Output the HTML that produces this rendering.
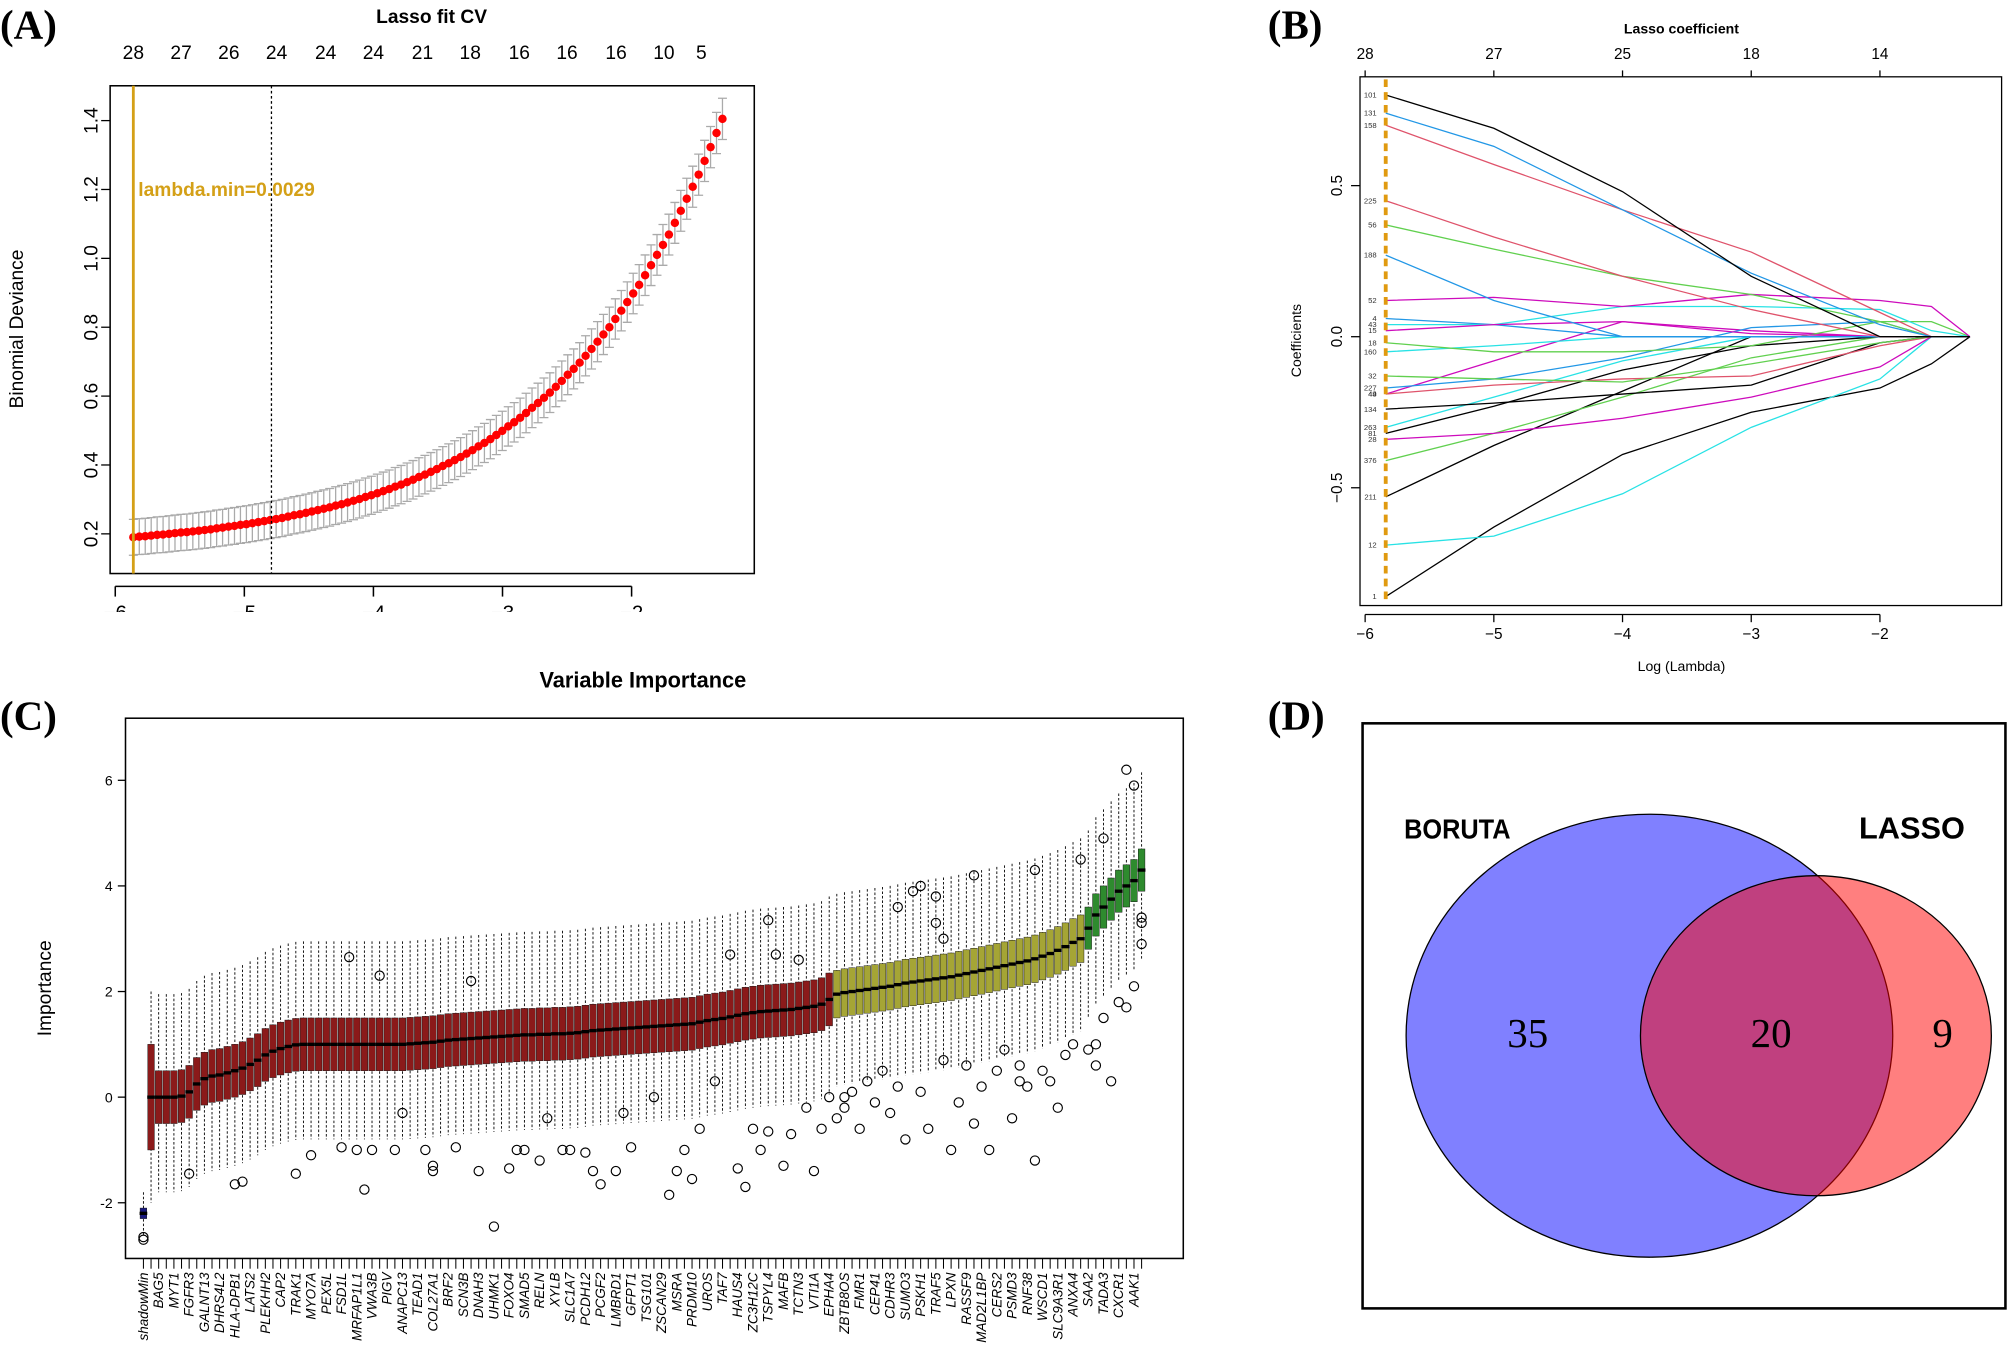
<!DOCTYPE html>
<html><head><meta charset="utf-8">
<style>
html,body{margin:0;padding:0;background:#fff;}
svg{display:block;}
text{font-family:"Liberation Sans",sans-serif;}
.serif{font-family:"Liberation Serif",serif;}
</style></head>
<body>
<svg id="fig" xmlns="http://www.w3.org/2000/svg" width="2008" height="1366" viewBox="0 0 1568 1067" preserveAspectRatio="none">
<rect x="0" y="0" width="1568" height="1067" fill="#fff"/>
<defs><clipPath id="clipA"><rect x="0" y="0" width="700" height="478"/></clipPath></defs>

<text class="serif" x="0" y="30" font-size="32" font-weight="bold">(A)</text>
<text class="serif" x="990" y="30" font-size="32" font-weight="bold">(B)</text>
<text class="serif" x="0" y="570" font-size="32" font-weight="bold">(C)</text>
<text class="serif" x="990" y="570" font-size="32" font-weight="bold">(D)</text>

<g id="panelA">
<text x="337" y="18" font-size="15" font-weight="bold" text-anchor="middle">Lasso fit CV</text>
<text transform="translate(18,257) rotate(-90)" font-size="15" text-anchor="middle">Binomial Deviance</text>
<rect x="86" y="67" width="503" height="381" fill="none" stroke="#000" stroke-width="1.2"/>
<g id="aAxes"></g>
<g id="aMarks"></g>
<text x="108" y="153" font-size="15" font-weight="bold" fill="#D4A017">lambda.min=0.0029</text>
</g>

<g id="panelB">
<text x="1313" y="26" font-size="11" font-weight="bold" text-anchor="middle">Lasso coefficient</text>
<text transform="translate(1016,266) rotate(-90)" font-size="11" text-anchor="middle">Coefficients</text>
<text x="1313" y="524" font-size="11" text-anchor="middle">Log (Lambda)</text>
<rect x="1062" y="60" width="501" height="413" fill="none" stroke="#000" stroke-width="1"/>
<g id="bAxes"></g>
<g id="bMarks"></g>
</g>

<g id="panelC">
<text x="502" y="537" font-size="17" font-weight="bold" text-anchor="middle">Variable Importance</text>
<text transform="translate(40,772) rotate(-90)" font-size="15" text-anchor="middle">Importance</text>
<g id="cAxes"></g>
<g id="cMarks"></g>
<rect x="98" y="561" width="826" height="422" fill="none" stroke="#000" stroke-width="1.2"/>
</g>

<g id="panelD">
<rect x="1064" y="565" width="502" height="457" fill="none" stroke="#000" stroke-width="2"/>
<ellipse cx="1288" cy="809" rx="190" ry="173" fill="#8080FF" stroke="#000" stroke-width="1"/>
<ellipse cx="1418" cy="809" rx="137" ry="125" fill="rgba(255,0,0,0.5)" stroke="#000" stroke-width="1"/>
<text x="1138" y="655" font-size="22" font-weight="bold" text-anchor="middle" transform="translate(1138,0) scale(0.9,1) translate(-1138,0)">BORUTA</text>
<text x="1493" y="655" font-size="24" font-weight="bold" text-anchor="middle">LASSO</text>
<text class="serif" x="1193" y="818" font-size="32" text-anchor="middle">35</text>
<text class="serif" x="1383" y="818" font-size="32" text-anchor="middle">20</text>
<text class="serif" x="1517" y="818" font-size="32" text-anchor="middle">9</text>
</g>
</svg>

<script>
const aLogLambdaStart = -5.86;
const aLogLambdaStep = 0.0461;
const aDeviance = [0.190,0.192,0.193,0.195,0.197,0.198,0.200,0.202,0.204,0.205,0.207,0.209,0.211,0.213,0.216,0.218,0.221,0.223,0.226,0.228,0.231,0.234,0.237,0.240,0.243,0.246,0.250,0.254,0.257,0.261,0.265,0.269,0.273,0.277,0.282,0.286,0.291,0.296,0.301,0.307,0.312,0.318,0.324,0.330,0.337,0.343,0.350,0.357,0.365,0.372,0.380,0.388,0.397,0.405,0.414,0.423,0.433,0.443,0.454,0.464,0.475,0.487,0.499,0.512,0.524,0.537,0.551,0.566,0.580,0.595,0.610,0.627,0.644,0.662,0.679,0.697,0.717,0.737,0.758,0.779,0.800,0.824,0.848,0.873,0.898,0.923,0.951,0.980,1.010,1.039,1.069,1.103,1.138,1.173,1.208,1.243,1.283,1.323,1.364,1.405];
const aSE = [0.052,0.060];
const aYTicks = [0.2,0.4,0.6,0.8,1.0,1.2,1.4];
const aYTickLabels = ["0.2","0.4","0.6","0.8","1.0","1.2","1.4"];
const aXTicks = [-6,-5,-4,-3,-2];
const aXTickLabels = ["\u22126","\u22125","\u22124","\u22123","\u22122"];
const aTopLabels = ["28","27","26","24","24","24","21","18","16","16","16","10","5"];
const aTopPos = [-5.86,-5.49,-5.12,-4.75,-4.37,-4.00,-3.62,-3.25,-2.87,-2.50,-2.12,-1.75,-1.46];
const aLambdaMin = -5.86, aLambda1se = -4.79;

const bKnots = [-5.84,-5,-4,-3,-2,-1.6,-1.3];
const bIds = ["1","12","211","376","28","81","263","134","49","44","227","32","160","18","4","43","15","52","188","56","225","158","131","101"];
const bColors = ["#000000","#28E2E5","#000000","#61D04F","#CD0BBC","#000000","#28E2E5","#000000","#CD0BBC","#DF536B","#2297E6","#61D04F","#28E2E5","#61D04F","#2297E6","#28E2E5","#CD0BBC","#CD0BBC","#2297E6","#61D04F","#DF536B","#DF536B","#2297E6","#000000"];
const bS1 = [-0.86,-0.63,-0.39,-0.25,-0.17,-0.09,0];
const bS12 = [-0.69,-0.66,-0.52,-0.30,-0.14,0,0];
const bS211 = [-0.53,-0.36,-0.18,0,0,0,0];
const bS376 = [-0.41,-0.32,-0.20,-0.07,0,0,0];
const bS28 = [-0.34,-0.32,-0.27,-0.20,-0.10,0,0];
const bS81 = [-0.32,-0.23,-0.11,-0.03,0,0,0];
const bS263 = [-0.30,-0.20,-0.08,0,0,0,0];
const bS134 = [-0.24,-0.22,-0.19,-0.16,-0.02,0,0];
const bS49 = [-0.19,-0.08,0.05,0.02,0,0,0];
const bS44 = [-0.19,-0.16,-0.14,-0.13,-0.03,0,0];
const bS227 = [-0.17,-0.14,-0.07,0.03,0.05,0,0];
const bS32 = [-0.13,-0.14,-0.15,-0.09,-0.02,0,0];
const bS160 = [-0.05,-0.03,0,0,0,0,0];
const bS18 = [-0.02,-0.05,-0.05,-0.03,0.05,0.05,0];
const bS4 = [0.06,0.04,0,0,0,0,0];
const bS43 = [0.04,0.04,0.10,0.10,0.09,0.02,0];
const bS15 = [0.02,0.04,0.05,0.01,0,0,0];
const bS52 = [0.12,0.13,0.10,0.14,0.12,0.10,0];
const bS188 = [0.27,0.12,0,0,0,0,0];
const bS56 = [0.37,0.29,0.20,0.14,0.05,0,0];
const bS225 = [0.45,0.33,0.20,0.09,0,0,0];
const bS158 = [0.70,0.57,0.42,0.28,0.08,0,0];
const bS131 = [0.74,0.63,0.42,0.21,0.04,0,0];
const bS101 = [0.80,0.69,0.48,0.20,0.0,0,0];
const bSeries = [bS1,bS12,bS211,bS376,bS28,bS81,bS263,bS134,bS49,bS44,bS227,bS32,bS160,bS18,bS4,bS43,bS15,bS52,bS188,bS56,bS225,bS158,bS131,bS101];
const bXTicks = [-6,-5,-4,-3,-2];
const bXTickLabels = ["\u22126","\u22125","\u22124","\u22123","\u22122"];
const bYTicks = [-0.5,0,0.5];
const bYTickLabels = ["\u22120.5","0.0","0.5"];
const bTopLabels = ["28","27","25","18","14"];
const bLambdaMin = -5.84;

const cLabels = ["shadowMin","BAG5","MYT1","FGFR3","GALNT13","DHRS4L2","HLA-DPB1","LATS2","PLEKHH2","CAP2","TRAK1","MYO7A","PEX5L","FSD1L","MRFAP1L1","VWA3B","PIGV","ANAPC13","TEAD1","COL27A1","BRF2","SCN3B","DNAH3","UHMK1","FOXO4","SMAD5","RELN","XYLB","SLC1A7","PCDH12","PCGF2","LMBRD1","GFPT1","TSG101","ZSCAN29","MSRA","PRDM10","UROS","TAF7","HAUS4","ZC3H12C","TSPYL4","MAFB","TCTN3","VTI1A","EPHA4","ZBTB8OS","FMR1","CEP41","CDHR3","SUMO3","PSKH1","TRAF5","LPXN","RASSF9","MAD2L1BP","CERS2","PSMD3","RNF38","WSCD1","SLC9A3R1","ANXA4","SAA2","TADA3","CXCR1","AAK1"];
const cMedians = [-2.2,
0,0,0,0,0.02,
0.1,0.25,0.35,0.4,0.42,
0.46,0.5,0.55,0.62,0.7,
0.8,0.87,0.92,0.96,0.99,
1,1,1,1,1,
1,1,1,1,1,
1,1,1,1,1.01,
1.02,1.03,1.04,1.06,1.08,
1.09,1.1,1.11,1.12,1.13,
1.14,1.15,1.16,1.17,1.18,
1.18,1.19,1.19,1.2,1.2,
1.21,1.22,1.24,1.26,1.27,
1.28,1.29,1.3,1.31,1.32,
1.33,1.34,1.35,1.36,1.37,
1.38,1.39,1.42,1.45,1.47,
1.49,1.52,1.55,1.58,1.6,
1.62,1.63,1.64,1.65,1.66,
1.68,1.7,1.72,1.76,1.85,
1.95,1.98,2.0,2.02,2.04,
2.06,2.08,2.1,2.13,2.16,
2.18,2.2,2.22,2.24,2.26,
2.28,2.31,2.34,2.37,2.4,
2.43,2.46,2.49,2.52,2.55,
2.58,2.62,2.67,2.72,2.78,
2.85,2.93,3.0,3.2,3.45,
3.6,3.75,3.9,4.0,4.1,4.3];
const cTentativeStart = 91;
const cConfirmedStart = 124;
const cOutlierIdx = [0,0,6,12,13,20,22,26,27,28,29,30,31,33,34,37,38,38,41,43,44,46,48,49,50,52,53,55,56,58,59,60,62,63,64,67,69,70,71,72,73,75,77,78,79,80,81,82,82,83,84,85,86,87,88,89,90,
91,92,92,93,94,95,96,97,98,99,99,100,101,102,102,103,104,104,105,105,106,107,108,109,109,110,111,112,113,114,115,115,116,117,117,118,119,120,121,122,123,124,125,125,126,126,127,128,129,129,130,130,131,131,131];
const cOutlierVal = [-2.65,-2.7,-1.45,-1.65,-1.6,-1.45,-1.1,-0.95,2.65,-1.0,-1.75,-1.0,2.3,-1.0,-0.3,-1.0,-1.4,-1.3,-0.95,2.2,-1.4,-2.45,-1.35,-1.0,-1.0,-1.2,-0.4,-1.0,-1.0,-1.05,-1.4,-1.65,-1.4,-0.3,-0.95,0.0,-1.85,-1.4,-1.0,-1.55,-0.6,0.3,2.7,-1.35,-1.7,-0.6,-1.0,3.35,-0.65,2.7,-1.3,-0.7,2.6,-0.2,-1.4,-0.6,0.0,
-0.4,0.0,-0.2,0.1,-0.6,0.3,-0.1,0.5,-0.3,3.6,0.2,-0.8,3.9,4.0,0.1,-0.6,3.8,3.3,3.0,0.7,-1.0,-0.1,0.6,4.2,-0.5,0.2,-1.0,0.5,0.9,-0.4,0.3,0.6,0.2,4.3,-1.2,0.5,0.3,-0.2,0.8,1.0,4.5,0.9,0.6,1.0,4.9,1.5,0.3,1.8,6.2,1.7,5.9,2.1,2.9,3.3,3.4];
const cYTicks = [-2,0,2,4,6];
const cYTickLabels = ["-2","0","2","4","6"];

const NS = "http://www.w3.org/2000/svg";
function mk(parent, tag, attrs, txt){
  const el = document.createElementNS(NS, tag);
  for (const k in attrs) el.setAttribute(k, attrs[k]);
  if (txt !== undefined) el.textContent = txt;
  parent.appendChild(el);
  return el;
}

const xA = v => 90 + (v + 6) * 100.8;
const yA = v => 417 - (v - 0.2) * 269;
const aAxes = document.getElementById('aAxes');
const aMarks = document.getElementById('aMarks');
aYTicks.forEach((t,i)=>{
  const tk = mk(aAxes,'line',{x1:86,x2:79,y1:yA(t),y2:yA(t),stroke:'#000','stroke-width':1});
  
  
  const lb = mk(aAxes,'text',{transform:`translate(76,${yA(t)}) rotate(-90)`,'font-size':15,'text-anchor':'middle'},aYTickLabels[i]);
  
  
});
const aXg = mk(aAxes,'g',{'clip-path':'url(#clipA)'});


const aXl = mk(aXg,'line',{x1:xA(-6),x2:xA(-2),y1:458,y2:458,stroke:'#000','stroke-width':1.2});


aXTicks.forEach((t,i)=>{
  const tk = mk(aXg,'line',{x1:xA(t),x2:xA(t),y1:458,y2:466,stroke:'#000','stroke-width':1.2});
  
  
  const lb = mk(aXg,'text',{x:xA(t),y:484,'font-size':16,'text-anchor':'middle'},aXTickLabels[i]);
  
  
});
aTopLabels.forEach((s,i)=>{
  const lb = mk(aAxes,'text',{x:xA(aTopPos[i]),y:46,'font-size':15,'text-anchor':'middle'},s);
  
  
});
aDeviance.forEach((d,i)=>{
  const lam = aLogLambdaStart + i*aLogLambdaStep;
  const se = aSE[0] + (aSE[1]-aSE[0]) * i/(aDeviance.length-1);
  const x = xA(lam);
  const eb = mk(aMarks,'path',{d:`M${x},${yA(d-se)}V${yA(d+se)}M${x-3.5},${yA(d-se)}h7M${x-3.5},${yA(d+se)}h7`,stroke:'#aaaaaa','stroke-width':1,fill:'none'});
  
  
});
aDeviance.forEach((d,i)=>{
  const lam = aLogLambdaStart + i*aLogLambdaStep;
  const pt = mk(aMarks,'circle',{cx:xA(lam),cy:yA(d),r:3.3,fill:'#FF0000'});
  
  
});
const aMinLine = mk(aMarks,'line',{x1:xA(aLambdaMin),x2:xA(aLambdaMin),y1:67,y2:448,stroke:'#D4A017','stroke-width':2.2});


const a1se = mk(aMarks,'line',{x1:xA(aLambda1se),x2:xA(aLambda1se),y1:67,y2:448,stroke:'#000','stroke-width':1,'stroke-dasharray':'2,2'});



const xB = v => 1066 + (v + 6) * 100.5;
const yB = v => 263 - v * 236;
const bAxes = document.getElementById('bAxes');
const bMarks = document.getElementById('bMarks');
const bXl = mk(bAxes,'line',{x1:xB(-6),x2:xB(-2),y1:480,y2:480,stroke:'#000','stroke-width':1});


bXTicks.forEach((t,i)=>{
  const tk = mk(bAxes,'line',{x1:xB(t),x2:xB(t),y1:480,y2:486,stroke:'#000'});
  
  
  const lb = mk(bAxes,'text',{x:xB(t),y:499,'font-size':12,'text-anchor':'middle'},bXTickLabels[i]);
  
  
  const tt = mk(bAxes,'line',{x1:xB(t),x2:xB(t),y1:60,y2:55,stroke:'#000'});
  
  
  const tl = mk(bAxes,'text',{x:xB(t),y:46,'font-size':12,'text-anchor':'middle'},bTopLabels[i]);
  
  
});
bYTicks.forEach((t,i)=>{
  const tk = mk(bAxes,'line',{x1:1062,x2:1055,y1:yB(t),y2:yB(t),stroke:'#000'});
  
  
  const lb = mk(bAxes,'text',{transform:`translate(1048,${yB(t)}) rotate(-90)`,'font-size':12,'text-anchor':'middle'},bYTickLabels[i]);
  
  
});
bSeries.forEach((s,k)=>{
  const pts = s.map((v,j)=>`${xB(bKnots[j]).toFixed(1)},${yB(v).toFixed(1)}`).join(' ');
  const pl = mk(bMarks,'polyline',{points:pts,fill:'none',stroke:bColors[k],'stroke-width':1});
  
  
  const lb = mk(bMarks,'text',{x:1075,y:yB(s[0])+2,'font-size':6,'text-anchor':'end',fill:'#333'},bIds[k]);
  
  
});
const bMin = mk(bMarks,'line',{x1:xB(bLambdaMin),x2:xB(bLambdaMin),y1:62,y2:472,stroke:'#E09A10','stroke-width':3,'stroke-dasharray':'6,4'});



const cStep = 5.95;
const xC = i => 112 + i * cStep;
const yC = v => 857 - v * 41.25;
const cAxes = document.getElementById('cAxes');
const cMarks = document.getElementById('cMarks');
cYTicks.forEach((t,i)=>{
  const tk = mk(cAxes,'line',{x1:98,x2:92,y1:yC(t),y2:yC(t),stroke:'#000'});
  
  
  const lb = mk(cAxes,'text',{x:88,y:yC(t)+4,'font-size':11,'text-anchor':'end'},cYTickLabels[i]);
  
  
});
cMedians.forEach((m,i)=>{
  const x = xC(i);
  const tk = mk(cAxes,'line',{x1:x,x2:x,y1:983,y2:991,stroke:'#000','stroke-width':0.8});
  
  
});
cLabels.forEach((s,k)=>{
  const x = xC(k*2);
  const lb = mk(cAxes,'text',{transform:`translate(${x+3.5},994) rotate(-90)`,'font-size':10.5,'font-style':'italic','text-anchor':'end'},s);
  
  
});
cMedians.forEach((m,i)=>{
  const x = xC(i);
  let fill = '#8B1A1A', half = 0.5, wl = 1.3, wh = 1.45;
  if (i === 0) { fill = '#1a1a80'; half = 0.1; wl = 0.3; wh = 0.3; }
  else if (i >= cConfirmedStart) { fill = '#2E8B2E'; half = 0.4; }
  else if (i >= cTentativeStart) { fill = '#A5A535'; half = 0.45; }
  if (i === 1) { half = 1.0; wl = 1.0; wh = 1.0; }
  const wh1 = mk(cMarks,'line',{x1:x,x2:x,y1:yC(m+half+wh),y2:yC(m-half-wl),stroke:'#000','stroke-width':0.7,'stroke-dasharray':'2,1.5'});
  
  
  const box = mk(cMarks,'rect',{x:x-2.6,y:yC(m+half),width:5.2,height:yC(m-half)-yC(m+half),fill:fill,stroke:'#111','stroke-width':0.35});
  
  
});
cMedians.forEach((m,i)=>{
  const x = xC(i);
  const md = mk(cMarks,'line',{x1:x-3,x2:x+3,y1:yC(m),y2:yC(m),stroke:'#000','stroke-width':2.6});
  
  
});
cOutlierIdx.forEach((idx,k)=>{
  const oc = mk(cMarks,'circle',{cx:xC(idx),cy:yC(cOutlierVal[k]),r:3.6,fill:'none',stroke:'#000','stroke-width':0.9});
  
  
});
</script>
</body></html>
